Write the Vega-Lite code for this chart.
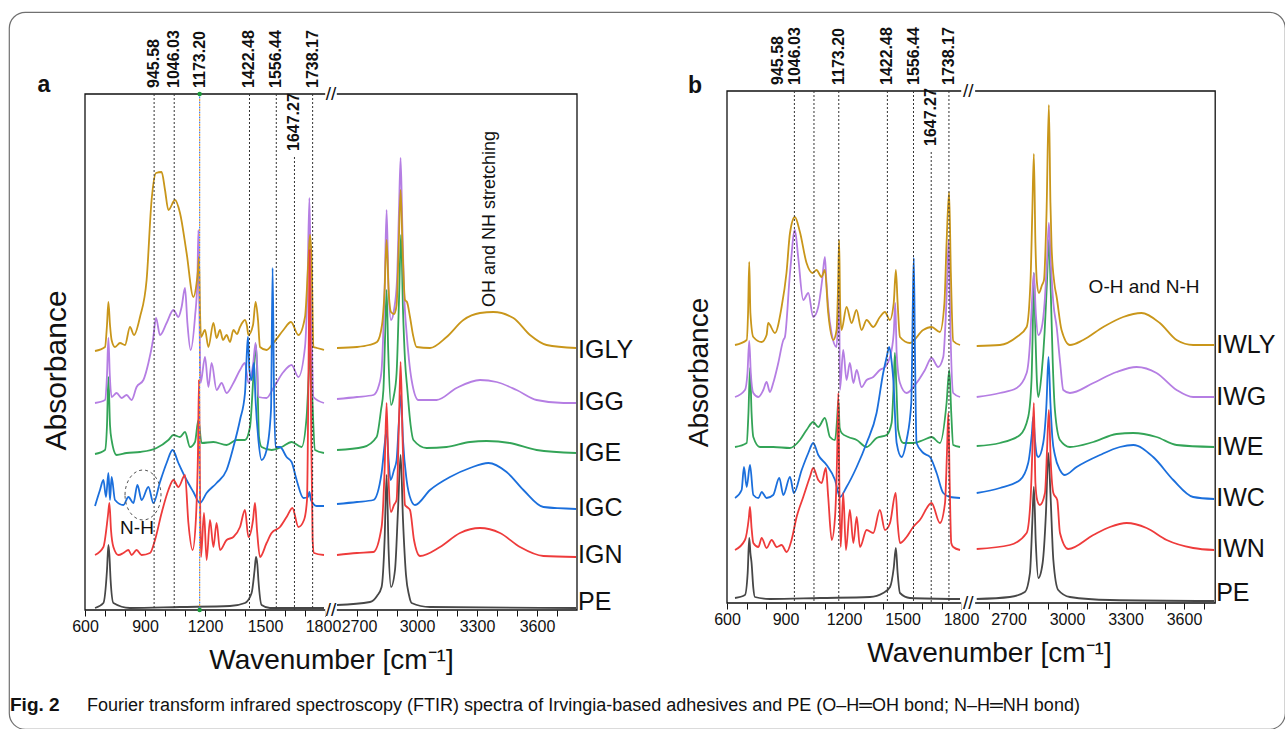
{
"$schema": "https://vega.github.io/schema/vega-lite/v6.json",
"width": 1276,
"height": 717,
"autosize": {"type": "none"},
"padding": {"left": 9, "top": 12, "right": 0, "bottom": 0},
"background": "white",
"config": {
  "font": "Liberation Sans",
  "view": {"stroke": "#707070", "strokeWidth": 1.2, "cornerRadius": 16},
  "axis": {"grid": false, "domain": false, "labelFont": "Liberation Sans", "titleFont": "Liberation Sans", "labelColor": "#111111", "titleColor": "#111111", "titleFontWeight": "normal", "tickColor": "#111111"}
},
"datasets": {
"lines": [
{"p":"a","w":945.58,"t":516},{"p":"a","w":1046.03,"t":516},{"p":"a","w":1173.2,"t":516},{"p":"a","w":1422.48,"t":516},{"p":"a","w":1556.44,"t":516},{"p":"a","w":1647.27,"t":453},{"p":"a","w":1738.17,"t":516},
{"p":"b","w":945.58,"t":512},{"p":"b","w":1046.03,"t":512},{"p":"b","w":1173.2,"t":512},{"p":"b","w":1422.48,"t":512},{"p":"b","w":1556.44,"t":512},{"p":"b","w":1647.27,"t":451},{"p":"b","w":1738.17,"t":512}
],
"names": [
{"p":"a","s":"IGLY","w":3800,"v":260},{"p":"a","s":"IGG","w":3800,"v":208},{"p":"a","s":"IGE","w":3800,"v":157},{"p":"a","s":"IGC","w":3800,"v":102},{"p":"a","s":"IGN","w":3800,"v":55},{"p":"a","s":"PE","w":3800,"v":8},
{"p":"b","s":"IWLY","w":3760,"v":258},{"p":"b","s":"IWG","w":3760,"v":206},{"p":"b","s":"IWE","w":3760,"v":156},{"p":"b","s":"IWC","w":3760,"v":105},{"p":"b","s":"IWN","w":3760,"v":54},{"p":"b","s":"PE","w":3760,"v":10}
],
"spec": [
{"p":"a","s":"PE","g":"L","w":650,"v":2},{"p":"a","s":"PE","g":"L","w":692,"v":7},{"p":"a","s":"PE","g":"L","w":710,"v":40},{"p":"a","s":"PE","g":"L","w":717,"v":65},{"p":"a","s":"PE","g":"L","w":722,"v":55},{"p":"a","s":"PE","g":"L","w":728,"v":30},{"p":"a","s":"PE","g":"L","w":742,"v":7},{"p":"a","s":"PE","g":"L","w":825,"v":2},{"p":"a","s":"PE","g":"L","w":1075,"v":3},{"p":"a","s":"PE","g":"L","w":1325,"v":4},{"p":"a","s":"PE","g":"L","w":1400,"v":7},{"p":"a","s":"PE","g":"L","w":1433,"v":17},{"p":"a","s":"PE","g":"L","w":1448,"v":40},{"p":"a","s":"PE","g":"L","w":1455,"v":53},{"p":"a","s":"PE","g":"L","w":1462,"v":45},{"p":"a","s":"PE","g":"L","w":1467,"v":30},{"p":"a","s":"PE","g":"L","w":1483,"v":5},{"p":"a","s":"PE","g":"L","w":1525,"v":2},{"p":"a","s":"PE","g":"L","w":1795,"v":2},
{"p":"a","s":"PE","g":"R","w":2600,"v":5},{"p":"a","s":"PE","g":"R","w":2765,"v":8},{"p":"a","s":"PE","g":"R","w":2800,"v":14},{"p":"a","s":"PE","g":"R","w":2823,"v":23},{"p":"a","s":"PE","g":"R","w":2838,"v":70},{"p":"a","s":"PE","g":"R","w":2848,"v":135},{"p":"a","s":"PE","g":"R","w":2858,"v":60},{"p":"a","s":"PE","g":"R","w":2870,"v":23},{"p":"a","s":"PE","g":"R","w":2890,"v":40},{"p":"a","s":"PE","g":"R","w":2905,"v":100},{"p":"a","s":"PE","g":"R","w":2918,"v":155},{"p":"a","s":"PE","g":"R","w":2930,"v":90},{"p":"a","s":"PE","g":"R","w":2945,"v":35},{"p":"a","s":"PE","g":"R","w":2960,"v":15},{"p":"a","s":"PE","g":"R","w":2973,"v":7},{"p":"a","s":"PE","g":"R","w":3065,"v":3},{"p":"a","s":"PE","g":"R","w":3795,"v":2},
{"p":"a","s":"IGE","g":"L","w":650,"v":156},{"p":"a","s":"IGE","g":"L","w":700,"v":160},{"p":"a","s":"IGE","g":"L","w":710,"v":185},{"p":"a","s":"IGE","g":"L","w":717,"v":233},{"p":"a","s":"IGE","g":"L","w":725,"v":185},{"p":"a","s":"IGE","g":"L","w":733,"v":170},{"p":"a","s":"IGE","g":"L","w":758,"v":155},{"p":"a","s":"IGE","g":"L","w":808,"v":157},{"p":"a","s":"IGE","g":"L","w":875,"v":158},{"p":"a","s":"IGE","g":"L","w":958,"v":162},{"p":"a","s":"IGE","g":"L","w":1017,"v":170},{"p":"a","s":"IGE","g":"L","w":1042,"v":175},{"p":"a","s":"IGE","g":"L","w":1075,"v":173},{"p":"a","s":"IGE","g":"L","w":1100,"v":178},{"p":"a","s":"IGE","g":"L","w":1125,"v":163},{"p":"a","s":"IGE","g":"L","w":1150,"v":168},{"p":"a","s":"IGE","g":"L","w":1167,"v":190},{"p":"a","s":"IGE","g":"L","w":1183,"v":167},{"p":"a","s":"IGE","g":"L","w":1242,"v":168},{"p":"a","s":"IGE","g":"L","w":1308,"v":165},{"p":"a","s":"IGE","g":"L","w":1358,"v":170},{"p":"a","s":"IGE","g":"L","w":1400,"v":170},{"p":"a","s":"IGE","g":"L","w":1425,"v":183},{"p":"a","s":"IGE","g":"L","w":1445,"v":243},{"p":"a","s":"IGE","g":"L","w":1455,"v":265},{"p":"a","s":"IGE","g":"L","w":1462,"v":230},{"p":"a","s":"IGE","g":"L","w":1470,"v":173},{"p":"a","s":"IGE","g":"L","w":1483,"v":163},{"p":"a","s":"IGE","g":"L","w":1533,"v":160},{"p":"a","s":"IGE","g":"L","w":1583,"v":163},{"p":"a","s":"IGE","g":"L","w":1633,"v":168},{"p":"a","s":"IGE","g":"L","w":1683,"v":163},{"p":"a","s":"IGE","g":"L","w":1708,"v":193},{"p":"a","s":"IGE","g":"L","w":1720,"v":240},{"p":"a","s":"IGE","g":"L","w":1727,"v":262},{"p":"a","s":"IGE","g":"L","w":1735,"v":220},{"p":"a","s":"IGE","g":"L","w":1750,"v":160},{"p":"a","s":"IGE","g":"L","w":1795,"v":157},
{"p":"a","s":"IGE","g":"R","w":2600,"v":160},{"p":"a","s":"IGE","g":"R","w":2732,"v":163},{"p":"a","s":"IGE","g":"R","w":2798,"v":173},{"p":"a","s":"IGE","g":"R","w":2820,"v":200},{"p":"a","s":"IGE","g":"R","w":2832,"v":220},{"p":"a","s":"IGE","g":"R","w":2840,"v":270},{"p":"a","s":"IGE","g":"R","w":2848,"v":320},{"p":"a","s":"IGE","g":"R","w":2856,"v":260},{"p":"a","s":"IGE","g":"R","w":2870,"v":205},{"p":"a","s":"IGE","g":"R","w":2885,"v":215},{"p":"a","s":"IGE","g":"R","w":2898,"v":237},{"p":"a","s":"IGE","g":"R","w":2910,"v":310},{"p":"a","s":"IGE","g":"R","w":2920,"v":375},{"p":"a","s":"IGE","g":"R","w":2930,"v":300},{"p":"a","s":"IGE","g":"R","w":2940,"v":250},{"p":"a","s":"IGE","g":"R","w":2952,"v":220},{"p":"a","s":"IGE","g":"R","w":2968,"v":185},{"p":"a","s":"IGE","g":"R","w":2982,"v":170},{"p":"a","s":"IGE","g":"R","w":3048,"v":162},{"p":"a","s":"IGE","g":"R","w":3148,"v":163},{"p":"a","s":"IGE","g":"R","w":3265,"v":168},{"p":"a","s":"IGE","g":"R","w":3348,"v":169},{"p":"a","s":"IGE","g":"R","w":3465,"v":167},{"p":"a","s":"IGE","g":"R","w":3598,"v":160},{"p":"a","s":"IGE","g":"R","w":3795,"v":157},
{"p":"a","s":"IGG","g":"L","w":650,"v":207},{"p":"a","s":"IGG","g":"L","w":700,"v":210},{"p":"a","s":"IGG","g":"L","w":710,"v":235},{"p":"a","s":"IGG","g":"L","w":717,"v":272},{"p":"a","s":"IGG","g":"L","w":724,"v":235},{"p":"a","s":"IGG","g":"L","w":733,"v":213},{"p":"a","s":"IGG","g":"L","w":758,"v":217},{"p":"a","s":"IGG","g":"L","w":783,"v":212},{"p":"a","s":"IGG","g":"L","w":808,"v":215},{"p":"a","s":"IGG","g":"L","w":833,"v":210},{"p":"a","s":"IGG","g":"L","w":858,"v":223},{"p":"a","s":"IGG","g":"L","w":892,"v":230},{"p":"a","s":"IGG","g":"L","w":917,"v":247},{"p":"a","s":"IGG","g":"L","w":940,"v":270},{"p":"a","s":"IGG","g":"L","w":955,"v":292},{"p":"a","s":"IGG","g":"L","w":975,"v":275},{"p":"a","s":"IGG","g":"L","w":1008,"v":287},{"p":"a","s":"IGG","g":"L","w":1042,"v":300},{"p":"a","s":"IGG","g":"L","w":1067,"v":293},{"p":"a","s":"IGG","g":"L","w":1083,"v":303},{"p":"a","s":"IGG","g":"L","w":1100,"v":322},{"p":"a","s":"IGG","g":"L","w":1112,"v":287},{"p":"a","s":"IGG","g":"L","w":1128,"v":260},{"p":"a","s":"IGG","g":"L","w":1150,"v":293},{"p":"a","s":"IGG","g":"L","w":1162,"v":330},{"p":"a","s":"IGG","g":"L","w":1167,"v":380},{"p":"a","s":"IGG","g":"L","w":1172,"v":300},{"p":"a","s":"IGG","g":"L","w":1178,"v":227},{"p":"a","s":"IGG","g":"L","w":1200,"v":253},{"p":"a","s":"IGG","g":"L","w":1217,"v":223},{"p":"a","s":"IGG","g":"L","w":1233,"v":247},{"p":"a","s":"IGG","g":"L","w":1258,"v":220},{"p":"a","s":"IGG","g":"L","w":1283,"v":227},{"p":"a","s":"IGG","g":"L","w":1308,"v":217},{"p":"a","s":"IGG","g":"L","w":1342,"v":227},{"p":"a","s":"IGG","g":"L","w":1375,"v":240},{"p":"a","s":"IGG","g":"L","w":1400,"v":247},{"p":"a","s":"IGG","g":"L","w":1417,"v":227},{"p":"a","s":"IGG","g":"L","w":1440,"v":245},{"p":"a","s":"IGG","g":"L","w":1453,"v":267},{"p":"a","s":"IGG","g":"L","w":1462,"v":240},{"p":"a","s":"IGG","g":"L","w":1467,"v":213},{"p":"a","s":"IGG","g":"L","w":1508,"v":212},{"p":"a","s":"IGG","g":"L","w":1542,"v":222},{"p":"a","s":"IGG","g":"L","w":1592,"v":238},{"p":"a","s":"IGG","g":"L","w":1633,"v":245},{"p":"a","s":"IGG","g":"L","w":1667,"v":233},{"p":"a","s":"IGG","g":"L","w":1700,"v":263},{"p":"a","s":"IGG","g":"L","w":1712,"v":320},{"p":"a","s":"IGG","g":"L","w":1722,"v":412},{"p":"a","s":"IGG","g":"L","w":1730,"v":320},{"p":"a","s":"IGG","g":"L","w":1742,"v":213},{"p":"a","s":"IGG","g":"L","w":1795,"v":207},
{"p":"a","s":"IGG","g":"R","w":2600,"v":211},{"p":"a","s":"IGG","g":"R","w":2700,"v":213},{"p":"a","s":"IGG","g":"R","w":2782,"v":215},{"p":"a","s":"IGG","g":"R","w":2810,"v":225},{"p":"a","s":"IGG","g":"R","w":2823,"v":240},{"p":"a","s":"IGG","g":"R","w":2838,"v":320},{"p":"a","s":"IGG","g":"R","w":2848,"v":400},{"p":"a","s":"IGG","g":"R","w":2858,"v":320},{"p":"a","s":"IGG","g":"R","w":2870,"v":290},{"p":"a","s":"IGG","g":"R","w":2885,"v":300},{"p":"a","s":"IGG","g":"R","w":2900,"v":330},{"p":"a","s":"IGG","g":"R","w":2910,"v":400},{"p":"a","s":"IGG","g":"R","w":2918,"v":452},{"p":"a","s":"IGG","g":"R","w":2926,"v":390},{"p":"a","s":"IGG","g":"R","w":2935,"v":320},{"p":"a","s":"IGG","g":"R","w":2948,"v":277},{"p":"a","s":"IGG","g":"R","w":2960,"v":250},{"p":"a","s":"IGG","g":"R","w":2973,"v":230},{"p":"a","s":"IGG","g":"R","w":3007,"v":210},{"p":"a","s":"IGG","g":"R","w":3098,"v":210},{"p":"a","s":"IGG","g":"R","w":3198,"v":222},{"p":"a","s":"IGG","g":"R","w":3315,"v":230},{"p":"a","s":"IGG","g":"R","w":3398,"v":228},{"p":"a","s":"IGG","g":"R","w":3498,"v":220},{"p":"a","s":"IGG","g":"R","w":3598,"v":210},{"p":"a","s":"IGG","g":"R","w":3732,"v":207},{"p":"a","s":"IGG","g":"R","w":3795,"v":207},
{"p":"a","s":"IGLY","g":"L","w":650,"v":259},{"p":"a","s":"IGLY","g":"L","w":700,"v":263},{"p":"a","s":"IGLY","g":"L","w":710,"v":285},{"p":"a","s":"IGLY","g":"L","w":717,"v":308},{"p":"a","s":"IGLY","g":"L","w":725,"v":285},{"p":"a","s":"IGLY","g":"L","w":733,"v":270},{"p":"a","s":"IGLY","g":"L","w":750,"v":263},{"p":"a","s":"IGLY","g":"L","w":775,"v":267},{"p":"a","s":"IGLY","g":"L","w":800,"v":265},{"p":"a","s":"IGLY","g":"L","w":825,"v":283},{"p":"a","s":"IGLY","g":"L","w":845,"v":275},{"p":"a","s":"IGLY","g":"L","w":875,"v":293},{"p":"a","s":"IGLY","g":"L","w":908,"v":330},{"p":"a","s":"IGLY","g":"L","w":933,"v":410},{"p":"a","s":"IGLY","g":"L","w":955,"v":437},{"p":"a","s":"IGLY","g":"L","w":983,"v":438},{"p":"a","s":"IGLY","g":"L","w":1000,"v":420},{"p":"a","s":"IGLY","g":"L","w":1017,"v":400},{"p":"a","s":"IGLY","g":"L","w":1050,"v":410},{"p":"a","s":"IGLY","g":"L","w":1075,"v":397},{"p":"a","s":"IGLY","g":"L","w":1108,"v":357},{"p":"a","s":"IGLY","g":"L","w":1142,"v":313},{"p":"a","s":"IGLY","g":"L","w":1158,"v":327},{"p":"a","s":"IGLY","g":"L","w":1165,"v":340},{"p":"a","s":"IGLY","g":"L","w":1170,"v":353},{"p":"a","s":"IGLY","g":"L","w":1175,"v":300},{"p":"a","s":"IGLY","g":"L","w":1180,"v":273},{"p":"a","s":"IGLY","g":"L","w":1200,"v":280},{"p":"a","s":"IGLY","g":"L","w":1217,"v":263},{"p":"a","s":"IGLY","g":"L","w":1242,"v":287},{"p":"a","s":"IGLY","g":"L","w":1258,"v":272},{"p":"a","s":"IGLY","g":"L","w":1275,"v":280},{"p":"a","s":"IGLY","g":"L","w":1290,"v":270},{"p":"a","s":"IGLY","g":"L","w":1308,"v":275},{"p":"a","s":"IGLY","g":"L","w":1325,"v":268},{"p":"a","s":"IGLY","g":"L","w":1342,"v":280},{"p":"a","s":"IGLY","g":"L","w":1360,"v":276},{"p":"a","s":"IGLY","g":"L","w":1375,"v":283},{"p":"a","s":"IGLY","g":"L","w":1400,"v":290},{"p":"a","s":"IGLY","g":"L","w":1410,"v":284},{"p":"a","s":"IGLY","g":"L","w":1417,"v":275},{"p":"a","s":"IGLY","g":"L","w":1440,"v":285},{"p":"a","s":"IGLY","g":"L","w":1453,"v":308},{"p":"a","s":"IGLY","g":"L","w":1465,"v":290},{"p":"a","s":"IGLY","g":"L","w":1475,"v":263},{"p":"a","s":"IGLY","g":"L","w":1508,"v":260},{"p":"a","s":"IGLY","g":"L","w":1542,"v":267},{"p":"a","s":"IGLY","g":"L","w":1592,"v":280},{"p":"a","s":"IGLY","g":"L","w":1630,"v":288},{"p":"a","s":"IGLY","g":"L","w":1667,"v":275},{"p":"a","s":"IGLY","g":"L","w":1700,"v":293},{"p":"a","s":"IGLY","g":"L","w":1717,"v":350},{"p":"a","s":"IGLY","g":"L","w":1725,"v":375},{"p":"a","s":"IGLY","g":"L","w":1733,"v":350},{"p":"a","s":"IGLY","g":"L","w":1742,"v":263},{"p":"a","s":"IGLY","g":"L","w":1760,"v":262},{"p":"a","s":"IGLY","g":"L","w":1795,"v":260},
{"p":"a","s":"IGLY","g":"R","w":2600,"v":262},{"p":"a","s":"IGLY","g":"R","w":2700,"v":263},{"p":"a","s":"IGLY","g":"R","w":2760,"v":265},{"p":"a","s":"IGLY","g":"R","w":2800,"v":268},{"p":"a","s":"IGLY","g":"R","w":2825,"v":285},{"p":"a","s":"IGLY","g":"R","w":2838,"v":320},{"p":"a","s":"IGLY","g":"R","w":2848,"v":370},{"p":"a","s":"IGLY","g":"R","w":2858,"v":320},{"p":"a","s":"IGLY","g":"R","w":2870,"v":298},{"p":"a","s":"IGLY","g":"R","w":2885,"v":296},{"p":"a","s":"IGLY","g":"R","w":2898,"v":305},{"p":"a","s":"IGLY","g":"R","w":2908,"v":360},{"p":"a","s":"IGLY","g":"R","w":2918,"v":420},{"p":"a","s":"IGLY","g":"R","w":2928,"v":360},{"p":"a","s":"IGLY","g":"R","w":2940,"v":310},{"p":"a","s":"IGLY","g":"R","w":2950,"v":308},{"p":"a","s":"IGLY","g":"R","w":2965,"v":293},{"p":"a","s":"IGLY","g":"R","w":2980,"v":275},{"p":"a","s":"IGLY","g":"R","w":2998,"v":263},{"p":"a","s":"IGLY","g":"R","w":3065,"v":262},{"p":"a","s":"IGLY","g":"R","w":3148,"v":273},{"p":"a","s":"IGLY","g":"R","w":3232,"v":290},{"p":"a","s":"IGLY","g":"R","w":3315,"v":297},{"p":"a","s":"IGLY","g":"R","w":3382,"v":298},{"p":"a","s":"IGLY","g":"R","w":3482,"v":292},{"p":"a","s":"IGLY","g":"R","w":3565,"v":275},{"p":"a","s":"IGLY","g":"R","w":3648,"v":265},{"p":"a","s":"IGLY","g":"R","w":3795,"v":262},
{"p":"a","s":"IGC","g":"L","w":650,"v":104},{"p":"a","s":"IGC","g":"L","w":675,"v":120},{"p":"a","s":"IGC","g":"L","w":692,"v":130},{"p":"a","s":"IGC","g":"L","w":705,"v":113},{"p":"a","s":"IGC","g":"L","w":717,"v":137},{"p":"a","s":"IGC","g":"L","w":725,"v":110},{"p":"a","s":"IGC","g":"L","w":733,"v":133},{"p":"a","s":"IGC","g":"L","w":750,"v":110},{"p":"a","s":"IGC","g":"L","w":792,"v":105},{"p":"a","s":"IGC","g":"L","w":817,"v":113},{"p":"a","s":"IGC","g":"L","w":842,"v":107},{"p":"a","s":"IGC","g":"L","w":862,"v":125},{"p":"a","s":"IGC","g":"L","w":883,"v":110},{"p":"a","s":"IGC","g":"L","w":917,"v":123},{"p":"a","s":"IGC","g":"L","w":942,"v":107},{"p":"a","s":"IGC","g":"L","w":975,"v":128},{"p":"a","s":"IGC","g":"L","w":1008,"v":147},{"p":"a","s":"IGC","g":"L","w":1038,"v":160},{"p":"a","s":"IGC","g":"L","w":1067,"v":147},{"p":"a","s":"IGC","g":"L","w":1100,"v":133},{"p":"a","s":"IGC","g":"L","w":1142,"v":118},{"p":"a","s":"IGC","g":"L","w":1175,"v":107},{"p":"a","s":"IGC","g":"L","w":1208,"v":117},{"p":"a","s":"IGC","g":"L","w":1258,"v":127},{"p":"a","s":"IGC","g":"L","w":1308,"v":140},{"p":"a","s":"IGC","g":"L","w":1342,"v":163},{"p":"a","s":"IGC","g":"L","w":1375,"v":190},{"p":"a","s":"IGC","g":"L","w":1400,"v":217},{"p":"a","s":"IGC","g":"L","w":1410,"v":260},{"p":"a","s":"IGC","g":"L","w":1415,"v":273},{"p":"a","s":"IGC","g":"L","w":1422,"v":240},{"p":"a","s":"IGC","g":"L","w":1433,"v":230},{"p":"a","s":"IGC","g":"L","w":1445,"v":247},{"p":"a","s":"IGC","g":"L","w":1452,"v":213},{"p":"a","s":"IGC","g":"L","w":1467,"v":170},{"p":"a","s":"IGC","g":"L","w":1483,"v":150},{"p":"a","s":"IGC","g":"L","w":1508,"v":160},{"p":"a","s":"IGC","g":"L","w":1530,"v":200},{"p":"a","s":"IGC","g":"L","w":1538,"v":342},{"p":"a","s":"IGC","g":"L","w":1545,"v":220},{"p":"a","s":"IGC","g":"L","w":1552,"v":163},{"p":"a","s":"IGC","g":"L","w":1575,"v":163},{"p":"a","s":"IGC","g":"L","w":1608,"v":153},{"p":"a","s":"IGC","g":"L","w":1633,"v":148},{"p":"a","s":"IGC","g":"L","w":1658,"v":130},{"p":"a","s":"IGC","g":"L","w":1692,"v":112},{"p":"a","s":"IGC","g":"L","w":1715,"v":113},{"p":"a","s":"IGC","g":"L","w":1722,"v":118},{"p":"a","s":"IGC","g":"L","w":1730,"v":110},{"p":"a","s":"IGC","g":"L","w":1758,"v":104},{"p":"a","s":"IGC","g":"L","w":1795,"v":104},
{"p":"a","s":"IGC","g":"R","w":2600,"v":106},{"p":"a","s":"IGC","g":"R","w":2700,"v":108},{"p":"a","s":"IGC","g":"R","w":2782,"v":110},{"p":"a","s":"IGC","g":"R","w":2823,"v":137},{"p":"a","s":"IGC","g":"R","w":2838,"v":165},{"p":"a","s":"IGC","g":"R","w":2848,"v":180},{"p":"a","s":"IGC","g":"R","w":2858,"v":150},{"p":"a","s":"IGC","g":"R","w":2868,"v":130},{"p":"a","s":"IGC","g":"R","w":2885,"v":140},{"p":"a","s":"IGC","g":"R","w":2898,"v":150},{"p":"a","s":"IGC","g":"R","w":2910,"v":190},{"p":"a","s":"IGC","g":"R","w":2920,"v":215},{"p":"a","s":"IGC","g":"R","w":2930,"v":170},{"p":"a","s":"IGC","g":"R","w":2948,"v":130},{"p":"a","s":"IGC","g":"R","w":2970,"v":110},{"p":"a","s":"IGC","g":"R","w":2990,"v":105},{"p":"a","s":"IGC","g":"R","w":3065,"v":120},{"p":"a","s":"IGC","g":"R","w":3165,"v":133},{"p":"a","s":"IGC","g":"R","w":3265,"v":142},{"p":"a","s":"IGC","g":"R","w":3357,"v":147},{"p":"a","s":"IGC","g":"R","w":3448,"v":138},{"p":"a","s":"IGC","g":"R","w":3532,"v":120},{"p":"a","s":"IGC","g":"R","w":3632,"v":103},{"p":"a","s":"IGC","g":"R","w":3795,"v":101},
{"p":"a","s":"IGN","g":"L","w":650,"v":55},{"p":"a","s":"IGN","g":"L","w":692,"v":63},{"p":"a","s":"IGN","g":"L","w":715,"v":95},{"p":"a","s":"IGN","g":"L","w":722,"v":107},{"p":"a","s":"IGN","g":"L","w":730,"v":80},{"p":"a","s":"IGN","g":"L","w":742,"v":63},{"p":"a","s":"IGN","g":"L","w":767,"v":55},{"p":"a","s":"IGN","g":"L","w":792,"v":57},{"p":"a","s":"IGN","g":"L","w":817,"v":60},{"p":"a","s":"IGN","g":"L","w":833,"v":55},{"p":"a","s":"IGN","g":"L","w":858,"v":60},{"p":"a","s":"IGN","g":"L","w":883,"v":55},{"p":"a","s":"IGN","g":"L","w":925,"v":57},{"p":"a","s":"IGN","g":"L","w":950,"v":70},{"p":"a","s":"IGN","g":"L","w":983,"v":97},{"p":"a","s":"IGN","g":"L","w":1017,"v":120},{"p":"a","s":"IGN","g":"L","w":1042,"v":130},{"p":"a","s":"IGN","g":"L","w":1067,"v":123},{"p":"a","s":"IGN","g":"L","w":1100,"v":135},{"p":"a","s":"IGN","g":"L","w":1117,"v":87},{"p":"a","s":"IGN","g":"L","w":1138,"v":60},{"p":"a","s":"IGN","g":"L","w":1155,"v":93},{"p":"a","s":"IGN","g":"L","w":1165,"v":160},{"p":"a","s":"IGN","g":"L","w":1170,"v":230},{"p":"a","s":"IGN","g":"L","w":1175,"v":120},{"p":"a","s":"IGN","g":"L","w":1180,"v":53},{"p":"a","s":"IGN","g":"L","w":1195,"v":97},{"p":"a","s":"IGN","g":"L","w":1208,"v":50},{"p":"a","s":"IGN","g":"L","w":1225,"v":90},{"p":"a","s":"IGN","g":"L","w":1242,"v":63},{"p":"a","s":"IGN","g":"L","w":1258,"v":87},{"p":"a","s":"IGN","g":"L","w":1275,"v":60},{"p":"a","s":"IGN","g":"L","w":1308,"v":70},{"p":"a","s":"IGN","g":"L","w":1342,"v":73},{"p":"a","s":"IGN","g":"L","w":1375,"v":83},{"p":"a","s":"IGN","g":"L","w":1400,"v":100},{"p":"a","s":"IGN","g":"L","w":1417,"v":73},{"p":"a","s":"IGN","g":"L","w":1440,"v":90},{"p":"a","s":"IGN","g":"L","w":1450,"v":107},{"p":"a","s":"IGN","g":"L","w":1460,"v":80},{"p":"a","s":"IGN","g":"L","w":1475,"v":53},{"p":"a","s":"IGN","g":"L","w":1508,"v":67},{"p":"a","s":"IGN","g":"L","w":1533,"v":77},{"p":"a","s":"IGN","g":"L","w":1575,"v":83},{"p":"a","s":"IGN","g":"L","w":1608,"v":93},{"p":"a","s":"IGN","g":"L","w":1637,"v":102},{"p":"a","s":"IGN","g":"L","w":1667,"v":83},{"p":"a","s":"IGN","g":"L","w":1695,"v":90},{"p":"a","s":"IGN","g":"L","w":1710,"v":110},{"p":"a","s":"IGN","g":"L","w":1718,"v":250},{"p":"a","s":"IGN","g":"L","w":1723,"v":360},{"p":"a","s":"IGN","g":"L","w":1730,"v":200},{"p":"a","s":"IGN","g":"L","w":1738,"v":70},{"p":"a","s":"IGN","g":"L","w":1745,"v":57},{"p":"a","s":"IGN","g":"L","w":1795,"v":55},
{"p":"a","s":"IGN","g":"R","w":2600,"v":55},{"p":"a","s":"IGN","g":"R","w":2700,"v":57},{"p":"a","s":"IGN","g":"R","w":2782,"v":58},{"p":"a","s":"IGN","g":"R","w":2823,"v":83},{"p":"a","s":"IGN","g":"R","w":2838,"v":140},{"p":"a","s":"IGN","g":"R","w":2848,"v":207},{"p":"a","s":"IGN","g":"R","w":2858,"v":130},{"p":"a","s":"IGN","g":"R","w":2870,"v":98},{"p":"a","s":"IGN","g":"R","w":2885,"v":105},{"p":"a","s":"IGN","g":"R","w":2898,"v":110},{"p":"a","s":"IGN","g":"R","w":2910,"v":190},{"p":"a","s":"IGN","g":"R","w":2918,"v":248},{"p":"a","s":"IGN","g":"R","w":2928,"v":170},{"p":"a","s":"IGN","g":"R","w":2940,"v":105},{"p":"a","s":"IGN","g":"R","w":2950,"v":103},{"p":"a","s":"IGN","g":"R","w":2965,"v":100},{"p":"a","s":"IGN","g":"R","w":2985,"v":70},{"p":"a","s":"IGN","g":"R","w":3015,"v":54},{"p":"a","s":"IGN","g":"R","w":3115,"v":63},{"p":"a","s":"IGN","g":"R","w":3215,"v":77},{"p":"a","s":"IGN","g":"R","w":3315,"v":82},{"p":"a","s":"IGN","g":"R","w":3415,"v":77},{"p":"a","s":"IGN","g":"R","w":3515,"v":63},{"p":"a","s":"IGN","g":"R","w":3632,"v":54},{"p":"a","s":"IGN","g":"R","w":3795,"v":53},
{"p":"b","s":"PE","g":"L","w":641,"v":5},{"p":"b","s":"PE","g":"L","w":692,"v":8},{"p":"b","s":"PE","g":"L","w":706,"v":30},{"p":"b","s":"PE","g":"L","w":714,"v":65},{"p":"b","s":"PE","g":"L","w":720,"v":50},{"p":"b","s":"PE","g":"L","w":726,"v":40},{"p":"b","s":"PE","g":"L","w":735,"v":15},{"p":"b","s":"PE","g":"L","w":743,"v":6},{"p":"b","s":"PE","g":"L","w":820,"v":4},{"p":"b","s":"PE","g":"L","w":1077,"v":5},{"p":"b","s":"PE","g":"L","w":1333,"v":6},{"p":"b","s":"PE","g":"L","w":1401,"v":10},{"p":"b","s":"PE","g":"L","w":1436,"v":16},{"p":"b","s":"PE","g":"L","w":1455,"v":35},{"p":"b","s":"PE","g":"L","w":1466,"v":55},{"p":"b","s":"PE","g":"L","w":1475,"v":30},{"p":"b","s":"PE","g":"L","w":1487,"v":10},{"p":"b","s":"PE","g":"L","w":1538,"v":5},{"p":"b","s":"PE","g":"L","w":1795,"v":4},
{"p":"b","s":"PE","g":"R","w":2537,"v":4},{"p":"b","s":"PE","g":"R","w":2707,"v":6},{"p":"b","s":"PE","g":"R","w":2784,"v":11},{"p":"b","s":"PE","g":"R","w":2810,"v":30},{"p":"b","s":"PE","g":"R","w":2822,"v":80},{"p":"b","s":"PE","g":"R","w":2830,"v":116},{"p":"b","s":"PE","g":"R","w":2840,"v":60},{"p":"b","s":"PE","g":"R","w":2853,"v":25},{"p":"b","s":"PE","g":"R","w":2875,"v":40},{"p":"b","s":"PE","g":"R","w":2892,"v":90},{"p":"b","s":"PE","g":"R","w":2904,"v":150},{"p":"b","s":"PE","g":"R","w":2915,"v":110},{"p":"b","s":"PE","g":"R","w":2930,"v":43},{"p":"b","s":"PE","g":"R","w":2955,"v":13},{"p":"b","s":"PE","g":"R","w":3015,"v":6},{"p":"b","s":"PE","g":"R","w":3220,"v":3},{"p":"b","s":"PE","g":"R","w":3755,"v":2},
{"p":"b","s":"IWE","g":"L","w":641,"v":156},{"p":"b","s":"IWE","g":"L","w":701,"v":160},{"p":"b","s":"IWE","g":"L","w":710,"v":190},{"p":"b","s":"IWE","g":"L","w":718,"v":235},{"p":"b","s":"IWE","g":"L","w":726,"v":190},{"p":"b","s":"IWE","g":"L","w":735,"v":166},{"p":"b","s":"IWE","g":"L","w":769,"v":156},{"p":"b","s":"IWE","g":"L","w":837,"v":156},{"p":"b","s":"IWE","g":"L","w":923,"v":155},{"p":"b","s":"IWE","g":"L","w":974,"v":163},{"p":"b","s":"IWE","g":"L","w":1008,"v":173},{"p":"b","s":"IWE","g":"L","w":1042,"v":181},{"p":"b","s":"IWE","g":"L","w":1068,"v":176},{"p":"b","s":"IWE","g":"L","w":1102,"v":185},{"p":"b","s":"IWE","g":"L","w":1128,"v":166},{"p":"b","s":"IWE","g":"L","w":1154,"v":163},{"p":"b","s":"IWE","g":"L","w":1165,"v":185},{"p":"b","s":"IWE","g":"L","w":1171,"v":203},{"p":"b","s":"IWE","g":"L","w":1178,"v":175},{"p":"b","s":"IWE","g":"L","w":1188,"v":170},{"p":"b","s":"IWE","g":"L","w":1222,"v":166},{"p":"b","s":"IWE","g":"L","w":1265,"v":163},{"p":"b","s":"IWE","g":"L","w":1316,"v":156},{"p":"b","s":"IWE","g":"L","w":1367,"v":165},{"p":"b","s":"IWE","g":"L","w":1419,"v":168},{"p":"b","s":"IWE","g":"L","w":1444,"v":180},{"p":"b","s":"IWE","g":"L","w":1455,"v":220},{"p":"b","s":"IWE","g":"L","w":1461,"v":250},{"p":"b","s":"IWE","g":"L","w":1468,"v":220},{"p":"b","s":"IWE","g":"L","w":1478,"v":173},{"p":"b","s":"IWE","g":"L","w":1504,"v":160},{"p":"b","s":"IWE","g":"L","w":1555,"v":160},{"p":"b","s":"IWE","g":"L","w":1607,"v":163},{"p":"b","s":"IWE","g":"L","w":1649,"v":166},{"p":"b","s":"IWE","g":"L","w":1692,"v":160},{"p":"b","s":"IWE","g":"L","w":1726,"v":200},{"p":"b","s":"IWE","g":"L","w":1740,"v":233},{"p":"b","s":"IWE","g":"L","w":1750,"v":190},{"p":"b","s":"IWE","g":"L","w":1760,"v":158},{"p":"b","s":"IWE","g":"L","w":1795,"v":156},
{"p":"b","s":"IWE","g":"R","w":2537,"v":157},{"p":"b","s":"IWE","g":"R","w":2656,"v":160},{"p":"b","s":"IWE","g":"R","w":2759,"v":168},{"p":"b","s":"IWE","g":"R","w":2801,"v":186},{"p":"b","s":"IWE","g":"R","w":2818,"v":223},{"p":"b","s":"IWE","g":"R","w":2825,"v":280},{"p":"b","s":"IWE","g":"R","w":2830,"v":330},{"p":"b","s":"IWE","g":"R","w":2838,"v":270},{"p":"b","s":"IWE","g":"R","w":2846,"v":220},{"p":"b","s":"IWE","g":"R","w":2853,"v":206},{"p":"b","s":"IWE","g":"R","w":2870,"v":230},{"p":"b","s":"IWE","g":"R","w":2885,"v":270},{"p":"b","s":"IWE","g":"R","w":2897,"v":320},{"p":"b","s":"IWE","g":"R","w":2907,"v":363},{"p":"b","s":"IWE","g":"R","w":2917,"v":310},{"p":"b","s":"IWE","g":"R","w":2927,"v":240},{"p":"b","s":"IWE","g":"R","w":2938,"v":193},{"p":"b","s":"IWE","g":"R","w":2964,"v":163},{"p":"b","s":"IWE","g":"R","w":3015,"v":156},{"p":"b","s":"IWE","g":"R","w":3135,"v":161},{"p":"b","s":"IWE","g":"R","w":3254,"v":169},{"p":"b","s":"IWE","g":"R","w":3340,"v":170},{"p":"b","s":"IWE","g":"R","w":3459,"v":166},{"p":"b","s":"IWE","g":"R","w":3562,"v":158},{"p":"b","s":"IWE","g":"R","w":3755,"v":156},
{"p":"b","s":"IWG","g":"L","w":641,"v":206},{"p":"b","s":"IWG","g":"L","w":692,"v":213},{"p":"b","s":"IWG","g":"L","w":705,"v":230},{"p":"b","s":"IWG","g":"L","w":714,"v":262},{"p":"b","s":"IWG","g":"L","w":722,"v":230},{"p":"b","s":"IWG","g":"L","w":735,"v":210},{"p":"b","s":"IWG","g":"L","w":761,"v":206},{"p":"b","s":"IWG","g":"L","w":786,"v":213},{"p":"b","s":"IWG","g":"L","w":803,"v":221},{"p":"b","s":"IWG","g":"L","w":820,"v":211},{"p":"b","s":"IWG","g":"L","w":837,"v":220},{"p":"b","s":"IWG","g":"L","w":863,"v":240},{"p":"b","s":"IWG","g":"L","w":889,"v":263},{"p":"b","s":"IWG","g":"L","w":897,"v":266},{"p":"b","s":"IWG","g":"L","w":923,"v":330},{"p":"b","s":"IWG","g":"L","w":948,"v":373},{"p":"b","s":"IWG","g":"L","w":965,"v":346},{"p":"b","s":"IWG","g":"L","w":991,"v":303},{"p":"b","s":"IWG","g":"L","w":1017,"v":310},{"p":"b","s":"IWG","g":"L","w":1042,"v":286},{"p":"b","s":"IWG","g":"L","w":1068,"v":296},{"p":"b","s":"IWG","g":"L","w":1088,"v":323},{"p":"b","s":"IWG","g":"L","w":1102,"v":346},{"p":"b","s":"IWG","g":"L","w":1110,"v":320},{"p":"b","s":"IWG","g":"L","w":1119,"v":296},{"p":"b","s":"IWG","g":"L","w":1136,"v":270},{"p":"b","s":"IWG","g":"L","w":1162,"v":256},{"p":"b","s":"IWG","g":"L","w":1170,"v":290},{"p":"b","s":"IWG","g":"L","w":1175,"v":320},{"p":"b","s":"IWG","g":"L","w":1179,"v":213},{"p":"b","s":"IWG","g":"L","w":1196,"v":253},{"p":"b","s":"IWG","g":"L","w":1213,"v":223},{"p":"b","s":"IWG","g":"L","w":1230,"v":240},{"p":"b","s":"IWG","g":"L","w":1248,"v":220},{"p":"b","s":"IWG","g":"L","w":1265,"v":233},{"p":"b","s":"IWG","g":"L","w":1290,"v":216},{"p":"b","s":"IWG","g":"L","w":1316,"v":223},{"p":"b","s":"IWG","g":"L","w":1350,"v":226},{"p":"b","s":"IWG","g":"L","w":1384,"v":233},{"p":"b","s":"IWG","g":"L","w":1410,"v":236},{"p":"b","s":"IWG","g":"L","w":1436,"v":246},{"p":"b","s":"IWG","g":"L","w":1455,"v":270},{"p":"b","s":"IWG","g":"L","w":1463,"v":300},{"p":"b","s":"IWG","g":"L","w":1470,"v":250},{"p":"b","s":"IWG","g":"L","w":1487,"v":220},{"p":"b","s":"IWG","g":"L","w":1521,"v":210},{"p":"b","s":"IWG","g":"L","w":1572,"v":220},{"p":"b","s":"IWG","g":"L","w":1615,"v":233},{"p":"b","s":"IWG","g":"L","w":1649,"v":245},{"p":"b","s":"IWG","g":"L","w":1683,"v":236},{"p":"b","s":"IWG","g":"L","w":1709,"v":246},{"p":"b","s":"IWG","g":"L","w":1725,"v":300},{"p":"b","s":"IWG","g":"L","w":1737,"v":363},{"p":"b","s":"IWG","g":"L","w":1745,"v":280},{"p":"b","s":"IWG","g":"L","w":1760,"v":210},{"p":"b","s":"IWG","g":"L","w":1795,"v":206},
{"p":"b","s":"IWG","g":"R","w":2537,"v":206},{"p":"b","s":"IWG","g":"R","w":2656,"v":210},{"p":"b","s":"IWG","g":"R","w":2742,"v":215},{"p":"b","s":"IWG","g":"R","w":2793,"v":230},{"p":"b","s":"IWG","g":"R","w":2810,"v":260},{"p":"b","s":"IWG","g":"R","w":2820,"v":300},{"p":"b","s":"IWG","g":"R","w":2830,"v":330},{"p":"b","s":"IWG","g":"R","w":2840,"v":290},{"p":"b","s":"IWG","g":"R","w":2853,"v":268},{"p":"b","s":"IWG","g":"R","w":2870,"v":275},{"p":"b","s":"IWG","g":"R","w":2885,"v":300},{"p":"b","s":"IWG","g":"R","w":2897,"v":340},{"p":"b","s":"IWG","g":"R","w":2907,"v":380},{"p":"b","s":"IWG","g":"R","w":2917,"v":340},{"p":"b","s":"IWG","g":"R","w":2930,"v":300},{"p":"b","s":"IWG","g":"R","w":2947,"v":276},{"p":"b","s":"IWG","g":"R","w":2965,"v":240},{"p":"b","s":"IWG","g":"R","w":2981,"v":213},{"p":"b","s":"IWG","g":"R","w":3015,"v":210},{"p":"b","s":"IWG","g":"R","w":3135,"v":220},{"p":"b","s":"IWG","g":"R","w":3254,"v":231},{"p":"b","s":"IWG","g":"R","w":3357,"v":236},{"p":"b","s":"IWG","g":"R","w":3459,"v":230},{"p":"b","s":"IWG","g":"R","w":3562,"v":213},{"p":"b","s":"IWG","g":"R","w":3647,"v":206},{"p":"b","s":"IWG","g":"R","w":3755,"v":206},
{"p":"b","s":"IWLY","g":"L","w":641,"v":258},{"p":"b","s":"IWLY","g":"L","w":701,"v":263},{"p":"b","s":"IWLY","g":"L","w":708,"v":290},{"p":"b","s":"IWLY","g":"L","w":714,"v":341},{"p":"b","s":"IWLY","g":"L","w":720,"v":290},{"p":"b","s":"IWLY","g":"L","w":735,"v":266},{"p":"b","s":"IWLY","g":"L","w":778,"v":261},{"p":"b","s":"IWLY","g":"L","w":803,"v":268},{"p":"b","s":"IWLY","g":"L","w":811,"v":280},{"p":"b","s":"IWLY","g":"L","w":846,"v":270},{"p":"b","s":"IWLY","g":"L","w":880,"v":296},{"p":"b","s":"IWLY","g":"L","w":905,"v":330},{"p":"b","s":"IWLY","g":"L","w":923,"v":370},{"p":"b","s":"IWLY","g":"L","w":948,"v":386},{"p":"b","s":"IWLY","g":"L","w":974,"v":371},{"p":"b","s":"IWLY","g":"L","w":1008,"v":340},{"p":"b","s":"IWLY","g":"L","w":1039,"v":330},{"p":"b","s":"IWLY","g":"L","w":1059,"v":333},{"p":"b","s":"IWLY","g":"L","w":1085,"v":326},{"p":"b","s":"IWLY","g":"L","w":1102,"v":333},{"p":"b","s":"IWLY","g":"L","w":1119,"v":290},{"p":"b","s":"IWLY","g":"L","w":1145,"v":263},{"p":"b","s":"IWLY","g":"L","w":1162,"v":273},{"p":"b","s":"IWLY","g":"L","w":1170,"v":320},{"p":"b","s":"IWLY","g":"L","w":1175,"v":363},{"p":"b","s":"IWLY","g":"L","w":1180,"v":300},{"p":"b","s":"IWLY","g":"L","w":1187,"v":273},{"p":"b","s":"IWLY","g":"L","w":1213,"v":296},{"p":"b","s":"IWLY","g":"L","w":1239,"v":280},{"p":"b","s":"IWLY","g":"L","w":1264,"v":293},{"p":"b","s":"IWLY","g":"L","w":1290,"v":273},{"p":"b","s":"IWLY","g":"L","w":1316,"v":283},{"p":"b","s":"IWLY","g":"L","w":1350,"v":276},{"p":"b","s":"IWLY","g":"L","w":1384,"v":286},{"p":"b","s":"IWLY","g":"L","w":1410,"v":291},{"p":"b","s":"IWLY","g":"L","w":1435,"v":283},{"p":"b","s":"IWLY","g":"L","w":1455,"v":300},{"p":"b","s":"IWLY","g":"L","w":1466,"v":333},{"p":"b","s":"IWLY","g":"L","w":1475,"v":300},{"p":"b","s":"IWLY","g":"L","w":1487,"v":266},{"p":"b","s":"IWLY","g":"L","w":1538,"v":260},{"p":"b","s":"IWLY","g":"L","w":1606,"v":273},{"p":"b","s":"IWLY","g":"L","w":1649,"v":276},{"p":"b","s":"IWLY","g":"L","w":1692,"v":271},{"p":"b","s":"IWLY","g":"L","w":1715,"v":300},{"p":"b","s":"IWLY","g":"L","w":1726,"v":360},{"p":"b","s":"IWLY","g":"L","w":1739,"v":411},{"p":"b","s":"IWLY","g":"L","w":1748,"v":330},{"p":"b","s":"IWLY","g":"L","w":1760,"v":262},{"p":"b","s":"IWLY","g":"L","w":1795,"v":258},
{"p":"b","s":"IWLY","g":"R","w":2537,"v":257},{"p":"b","s":"IWLY","g":"R","w":2656,"v":258},{"p":"b","s":"IWLY","g":"R","w":2742,"v":266},{"p":"b","s":"IWLY","g":"R","w":2793,"v":276},{"p":"b","s":"IWLY","g":"R","w":2813,"v":323},{"p":"b","s":"IWLY","g":"R","w":2822,"v":390},{"p":"b","s":"IWLY","g":"R","w":2830,"v":449},{"p":"b","s":"IWLY","g":"R","w":2838,"v":360},{"p":"b","s":"IWLY","g":"R","w":2846,"v":320},{"p":"b","s":"IWLY","g":"R","w":2856,"v":310},{"p":"b","s":"IWLY","g":"R","w":2872,"v":318},{"p":"b","s":"IWLY","g":"R","w":2882,"v":323},{"p":"b","s":"IWLY","g":"R","w":2895,"v":390},{"p":"b","s":"IWLY","g":"R","w":2907,"v":498},{"p":"b","s":"IWLY","g":"R","w":2915,"v":400},{"p":"b","s":"IWLY","g":"R","w":2921,"v":356},{"p":"b","s":"IWLY","g":"R","w":2935,"v":320},{"p":"b","s":"IWLY","g":"R","w":2947,"v":306},{"p":"b","s":"IWLY","g":"R","w":2972,"v":273},{"p":"b","s":"IWLY","g":"R","w":3015,"v":258},{"p":"b","s":"IWLY","g":"R","w":3083,"v":263},{"p":"b","s":"IWLY","g":"R","w":3186,"v":276},{"p":"b","s":"IWLY","g":"R","w":3288,"v":286},{"p":"b","s":"IWLY","g":"R","w":3382,"v":290},{"p":"b","s":"IWLY","g":"R","w":3476,"v":280},{"p":"b","s":"IWLY","g":"R","w":3562,"v":263},{"p":"b","s":"IWLY","g":"R","w":3647,"v":258},{"p":"b","s":"IWLY","g":"R","w":3755,"v":258},
{"p":"b","s":"IWC","g":"L","w":641,"v":105},{"p":"b","s":"IWC","g":"L","w":675,"v":113},{"p":"b","s":"IWC","g":"L","w":687,"v":136},{"p":"b","s":"IWC","g":"L","w":701,"v":116},{"p":"b","s":"IWC","g":"L","w":718,"v":138},{"p":"b","s":"IWC","g":"L","w":735,"v":108},{"p":"b","s":"IWC","g":"L","w":761,"v":105},{"p":"b","s":"IWC","g":"L","w":778,"v":111},{"p":"b","s":"IWC","g":"L","w":803,"v":105},{"p":"b","s":"IWC","g":"L","w":837,"v":108},{"p":"b","s":"IWC","g":"L","w":868,"v":125},{"p":"b","s":"IWC","g":"L","w":889,"v":108},{"p":"b","s":"IWC","g":"L","w":923,"v":126},{"p":"b","s":"IWC","g":"L","w":943,"v":110},{"p":"b","s":"IWC","g":"L","w":983,"v":133},{"p":"b","s":"IWC","g":"L","w":1017,"v":150},{"p":"b","s":"IWC","g":"L","w":1042,"v":160},{"p":"b","s":"IWC","g":"L","w":1068,"v":148},{"p":"b","s":"IWC","g":"L","w":1111,"v":138},{"p":"b","s":"IWC","g":"L","w":1154,"v":123},{"p":"b","s":"IWC","g":"L","w":1179,"v":106},{"p":"b","s":"IWC","g":"L","w":1213,"v":116},{"p":"b","s":"IWC","g":"L","w":1265,"v":136},{"p":"b","s":"IWC","g":"L","w":1316,"v":160},{"p":"b","s":"IWC","g":"L","w":1367,"v":190},{"p":"b","s":"IWC","g":"L","w":1401,"v":230},{"p":"b","s":"IWC","g":"L","w":1419,"v":246},{"p":"b","s":"IWC","g":"L","w":1432,"v":256},{"p":"b","s":"IWC","g":"L","w":1445,"v":240},{"p":"b","s":"IWC","g":"L","w":1453,"v":223},{"p":"b","s":"IWC","g":"L","w":1470,"v":160},{"p":"b","s":"IWC","g":"L","w":1495,"v":146},{"p":"b","s":"IWC","g":"L","w":1521,"v":163},{"p":"b","s":"IWC","g":"L","w":1545,"v":200},{"p":"b","s":"IWC","g":"L","w":1553,"v":300},{"p":"b","s":"IWC","g":"L","w":1558,"v":345},{"p":"b","s":"IWC","g":"L","w":1564,"v":250},{"p":"b","s":"IWC","g":"L","w":1572,"v":160},{"p":"b","s":"IWC","g":"L","w":1607,"v":150},{"p":"b","s":"IWC","g":"L","w":1641,"v":146},{"p":"b","s":"IWC","g":"L","w":1675,"v":130},{"p":"b","s":"IWC","g":"L","w":1709,"v":110},{"p":"b","s":"IWC","g":"L","w":1743,"v":106},{"p":"b","s":"IWC","g":"L","w":1795,"v":105},
{"p":"b","s":"IWC","g":"R","w":2537,"v":110},{"p":"b","s":"IWC","g":"R","w":2656,"v":115},{"p":"b","s":"IWC","g":"R","w":2759,"v":123},{"p":"b","s":"IWC","g":"R","w":2801,"v":140},{"p":"b","s":"IWC","g":"R","w":2820,"v":170},{"p":"b","s":"IWC","g":"R","w":2827,"v":186},{"p":"b","s":"IWC","g":"R","w":2835,"v":165},{"p":"b","s":"IWC","g":"R","w":2845,"v":148},{"p":"b","s":"IWC","g":"R","w":2853,"v":146},{"p":"b","s":"IWC","g":"R","w":2878,"v":160},{"p":"b","s":"IWC","g":"R","w":2895,"v":200},{"p":"b","s":"IWC","g":"R","w":2905,"v":246},{"p":"b","s":"IWC","g":"R","w":2915,"v":200},{"p":"b","s":"IWC","g":"R","w":2925,"v":165},{"p":"b","s":"IWC","g":"R","w":2938,"v":148},{"p":"b","s":"IWC","g":"R","w":2964,"v":133},{"p":"b","s":"IWC","g":"R","w":2989,"v":128},{"p":"b","s":"IWC","g":"R","w":3049,"v":136},{"p":"b","s":"IWC","g":"R","w":3169,"v":148},{"p":"b","s":"IWC","g":"R","w":3271,"v":156},{"p":"b","s":"IWC","g":"R","w":3340,"v":158},{"p":"b","s":"IWC","g":"R","w":3442,"v":146},{"p":"b","s":"IWC","g":"R","w":3545,"v":123},{"p":"b","s":"IWC","g":"R","w":3647,"v":106},{"p":"b","s":"IWC","g":"R","w":3755,"v":104},
{"p":"b","s":"IWN","g":"L","w":641,"v":53},{"p":"b","s":"IWN","g":"L","w":692,"v":63},{"p":"b","s":"IWN","g":"L","w":712,"v":85},{"p":"b","s":"IWN","g":"L","w":718,"v":96},{"p":"b","s":"IWN","g":"L","w":726,"v":75},{"p":"b","s":"IWN","g":"L","w":735,"v":60},{"p":"b","s":"IWN","g":"L","w":761,"v":56},{"p":"b","s":"IWN","g":"L","w":778,"v":65},{"p":"b","s":"IWN","g":"L","w":803,"v":55},{"p":"b","s":"IWN","g":"L","w":829,"v":63},{"p":"b","s":"IWN","g":"L","w":855,"v":56},{"p":"b","s":"IWN","g":"L","w":880,"v":58},{"p":"b","s":"IWN","g":"L","w":906,"v":51},{"p":"b","s":"IWN","g":"L","w":931,"v":63},{"p":"b","s":"IWN","g":"L","w":957,"v":86},{"p":"b","s":"IWN","g":"L","w":991,"v":106},{"p":"b","s":"IWN","g":"L","w":1025,"v":126},{"p":"b","s":"IWN","g":"L","w":1042,"v":135},{"p":"b","s":"IWN","g":"L","w":1068,"v":123},{"p":"b","s":"IWN","g":"L","w":1085,"v":120},{"p":"b","s":"IWN","g":"L","w":1107,"v":135},{"p":"b","s":"IWN","g":"L","w":1119,"v":106},{"p":"b","s":"IWN","g":"L","w":1137,"v":63},{"p":"b","s":"IWN","g":"L","w":1154,"v":86},{"p":"b","s":"IWN","g":"L","w":1165,"v":150},{"p":"b","s":"IWN","g":"L","w":1171,"v":210},{"p":"b","s":"IWN","g":"L","w":1176,"v":120},{"p":"b","s":"IWN","g":"L","w":1183,"v":56},{"p":"b","s":"IWN","g":"L","w":1196,"v":110},{"p":"b","s":"IWN","g":"L","w":1210,"v":53},{"p":"b","s":"IWN","g":"L","w":1230,"v":93},{"p":"b","s":"IWN","g":"L","w":1248,"v":60},{"p":"b","s":"IWN","g":"L","w":1265,"v":86},{"p":"b","s":"IWN","g":"L","w":1282,"v":56},{"p":"b","s":"IWN","g":"L","w":1316,"v":73},{"p":"b","s":"IWN","g":"L","w":1350,"v":70},{"p":"b","s":"IWN","g":"L","w":1384,"v":93},{"p":"b","s":"IWN","g":"L","w":1410,"v":73},{"p":"b","s":"IWN","g":"L","w":1436,"v":80},{"p":"b","s":"IWN","g":"L","w":1465,"v":110},{"p":"b","s":"IWN","g":"L","w":1475,"v":80},{"p":"b","s":"IWN","g":"L","w":1487,"v":60},{"p":"b","s":"IWN","g":"L","w":1521,"v":66},{"p":"b","s":"IWN","g":"L","w":1555,"v":76},{"p":"b","s":"IWN","g":"L","w":1589,"v":83},{"p":"b","s":"IWN","g":"L","w":1649,"v":100},{"p":"b","s":"IWN","g":"L","w":1692,"v":80},{"p":"b","s":"IWN","g":"L","w":1718,"v":100},{"p":"b","s":"IWN","g":"L","w":1728,"v":150},{"p":"b","s":"IWN","g":"L","w":1735,"v":190},{"p":"b","s":"IWN","g":"L","w":1742,"v":120},{"p":"b","s":"IWN","g":"L","w":1750,"v":60},{"p":"b","s":"IWN","g":"L","w":1760,"v":56},{"p":"b","s":"IWN","g":"L","w":1795,"v":53},
{"p":"b","s":"IWN","g":"R","w":2537,"v":54},{"p":"b","s":"IWN","g":"R","w":2707,"v":58},{"p":"b","s":"IWN","g":"R","w":2793,"v":70},{"p":"b","s":"IWN","g":"R","w":2813,"v":103},{"p":"b","s":"IWN","g":"R","w":2822,"v":150},{"p":"b","s":"IWN","g":"R","w":2830,"v":200},{"p":"b","s":"IWN","g":"R","w":2838,"v":120},{"p":"b","s":"IWN","g":"R","w":2847,"v":103},{"p":"b","s":"IWN","g":"R","w":2861,"v":98},{"p":"b","s":"IWN","g":"R","w":2887,"v":110},{"p":"b","s":"IWN","g":"R","w":2897,"v":150},{"p":"b","s":"IWN","g":"R","w":2907,"v":193},{"p":"b","s":"IWN","g":"R","w":2917,"v":140},{"p":"b","s":"IWN","g":"R","w":2930,"v":110},{"p":"b","s":"IWN","g":"R","w":2950,"v":103},{"p":"b","s":"IWN","g":"R","w":2964,"v":70},{"p":"b","s":"IWN","g":"R","w":3006,"v":54},{"p":"b","s":"IWN","g":"R","w":3135,"v":68},{"p":"b","s":"IWN","g":"R","w":3220,"v":76},{"p":"b","s":"IWN","g":"R","w":3306,"v":80},{"p":"b","s":"IWN","g":"R","w":3408,"v":75},{"p":"b","s":"IWN","g":"R","w":3511,"v":63},{"p":"b","s":"IWN","g":"R","w":3647,"v":55},{"p":"b","s":"IWN","g":"R","w":3755,"v":53}
]
},
"layer": [
{
"layer": [
  {"data": {"values": [{}]}, "mark": {"type": "rect", "fillOpacity": 0, "stroke": "#111111", "strokeWidth": 1.3},
   "encoding": {"x": {"datum": 600, "type": "quantitative"}, "x2": {"datum": 3800}, "y": {"datum": 0, "type": "quantitative"}, "y2": {"datum": 516}}},
  {"data": {"values": [{}]}, "mark": {"type": "rect", "color": "white"},
   "encoding": {"x": {"datum": 1812, "type": "quantitative"}, "x2": {"datum": 2588}, "y": {"datum": 510, "type": "quantitative"}, "y2": {"datum": 522}}},
  {"data": {"values": [{}]}, "mark": {"type": "rect", "color": "white"},
   "encoding": {"x": {"datum": 1812, "type": "quantitative"}, "x2": {"datum": 2588}, "y": {"datum": -6, "type": "quantitative"}, "y2": {"datum": 6}}},
  {"data": {"name": "spec"}, "transform": [{"filter": "datum.p == 'a'"}],
   "mark": {"type": "line", "strokeWidth": 1.8, "interpolate": "monotone"},
   "encoding": {
     "x": {"field": "w", "type": "quantitative",
       "scale": {"domain": [600, 1800, 2600, 3800], "range": [76, 316, 328, 568], "nice": false, "zero": false},
       "axis": {"orient": "bottom", "offset": -119,
         "values": [600,650,700,750,800,850,900,950,1000,1050,1100,1150,1200,1250,1300,1350,1400,1450,1500,1550,1600,1650,1700,1750,1800,2650,2700,2750,2800,2850,2900,2950,3000,3050,3100,3150,3200,3250,3300,3350,3400,3450,3500,3550,3600,3650,3700,3750],
         "labelExpr": "datum.value % 300 == 0 ? '' + datum.value : ''",
         "labelOverlap": false, "labelFlush": false, "labelBound": false,
         "labelOffset": {"condition": [{"test": "datum.value == 1800", "value": -2}, {"test": "datum.value == 2700", "value": 2}], "value": 0},
         "tickSize": 6, "tickWidth": 1, "labelFontSize": 16, "labelPadding": 2,
         "title": "Wavenumber [cm⁻¹]", "titleFontSize": 28, "titlePadding": 12}},
     "y": {"field": "v", "type": "quantitative",
       "scale": {"domain": [0, 516], "range": [598, 82], "nice": false, "zero": false},
       "axis": {"orient": "left", "offset": -76, "ticks": false, "labels": false, "title": "Absorbance", "titleFontSize": 30, "titlePadding": 14, "titleY": 358}},
     "color": {"field": "s", "type": "nominal", "legend": null,
       "scale": {"domain": ["IGLY","IGG","IGE","IGC","IGN","PE","IWLY","IWG","IWE","IWC","IWN"],
                 "range": ["#c9961a","#b57ee3","#33a457","#1b6fdc","#ee3b3b","#474747","#c9961a","#b57ee3","#33a457","#1b6fdc","#ee3b3b"]}},
     "detail": {"field": "g", "type": "nominal"}
   }},
  {"data": {"name": "lines"}, "transform": [{"filter": "datum.p == 'a' && datum.w != 1173.2"}],
   "mark": {"type": "rule", "strokeDash": [2, 2], "strokeWidth": 1, "color": "#333333"},
   "encoding": {"x": {"field": "w", "type": "quantitative"}, "y": {"field": "t", "type": "quantitative"}, "y2": {"datum": 0}}},
  {"data": {"name": "lines"}, "transform": [{"filter": "datum.p == 'a' && datum.w == 1173.2"}],
   "mark": {"type": "rule", "strokeDash": [2, 3], "strokeWidth": 1.2, "color": "#f0a030"},
   "encoding": {"x": {"field": "w", "type": "quantitative"}, "y": {"field": "t", "type": "quantitative"}, "y2": {"datum": 0}}},
  {"data": {"name": "lines"}, "transform": [{"filter": "datum.p == 'a' && datum.w == 1173.2"}],
   "mark": {"type": "rule", "strokeDash": [2, 3], "strokeDashOffset": 2.5, "strokeWidth": 1.2, "color": "#4a7fe0"},
   "encoding": {"x": {"field": "w", "type": "quantitative"}, "y": {"field": "t", "type": "quantitative"}, "y2": {"datum": 0}}},
  {"data": {"values": [{}]}, "mark": {"type": "point", "filled": true, "color": "#1a9a3a", "size": 20, "opacity": 1},
   "encoding": {"x": {"datum": 1173.2, "type": "quantitative"}, "y": {"datum": 516, "type": "quantitative"}}},
  {"data": {"values": [{}]}, "mark": {"type": "point", "filled": true, "color": "#1a9a3a", "size": 20, "opacity": 1},
   "encoding": {"x": {"datum": 1173.2, "type": "quantitative"}, "y": {"datum": 0, "type": "quantitative"}}},
  {"data": {"name": "lines"}, "transform": [{"filter": "datum.p == 'a'"}],
   "mark": {"type": "text", "angle": 270, "align": "left", "baseline": "middle", "dx": 6, "fontSize": 16, "fontWeight": "bold", "color": "#111111"},
   "encoding": {"x": {"field": "w", "type": "quantitative"}, "y": {"field": "t", "type": "quantitative"}, "text": {"field": "w", "type": "quantitative", "format": ".2f"}}},
  {"data": {"name": "names"}, "transform": [{"filter": "datum.p == 'a'"}],
   "mark": {"type": "text", "align": "left", "baseline": "middle", "dx": 1, "fontSize": 25, "color": "#111111"},
   "encoding": {"x": {"field": "w", "type": "quantitative"}, "y": {"field": "v", "type": "quantitative"}, "text": {"field": "s", "type": "nominal"}}},
  {"data": {"values": [{}]}, "mark": {"type": "text", "text": "a", "fontSize": 23, "fontWeight": "bold", "align": "center", "baseline": "middle", "color": "#111111"},
   "encoding": {"x": {"datum": 395, "type": "quantitative"}, "y": {"datum": 525, "type": "quantitative"}}},
  {"data": {"values": [{}]}, "mark": {"type": "text", "text": "OH and NH stretching", "fontSize": 18, "angle": 270, "align": "left", "baseline": "middle", "color": "#111111"},
   "encoding": {"x": {"datum": 3365, "type": "quantitative"}, "y": {"datum": 303, "type": "quantitative"}}},
  {"data": {"values": [{}]}, "mark": {"type": "point", "shape": "M -0.72 0 A 0.72 1 0 1 1 0.72 0 A 0.72 1 0 1 1 -0.72 0 Z", "size": 2500, "filled": false, "color": "#555555", "strokeWidth": 1, "strokeDash": [3, 3], "opacity": 1},
   "encoding": {"x": {"datum": 890, "type": "quantitative"}, "y": {"datum": 115, "type": "quantitative"}}},
  {"data": {"values": [{}]}, "mark": {"type": "text", "text": "N-H", "fontSize": 19, "align": "center", "baseline": "middle", "color": "#111111"},
   "encoding": {"x": {"datum": 860, "type": "quantitative"}, "y": {"datum": 82, "type": "quantitative"}}},
  {"data": {"values": [{}]}, "mark": {"type": "text", "text": "//", "fontSize": 19, "align": "center", "baseline": "middle", "color": "#111111"},
   "encoding": {"x": {"datum": 2200, "type": "quantitative"}, "y": {"datum": 516, "type": "quantitative"}}},
  {"data": {"values": [{}]}, "mark": {"type": "text", "text": "//", "fontSize": 19, "align": "center", "baseline": "middle", "color": "#111111"},
   "encoding": {"x": {"datum": 2200, "type": "quantitative"}, "y": {"datum": 0, "type": "quantitative"}}},
  {"data": {"values": [{}]}, "mark": {"type": "text", "text": "Fig. 2", "fontSize": 19, "fontWeight": "bold", "align": "left", "baseline": "alphabetic", "color": "#111111"},
   "encoding": {"x": {"datum": 225, "type": "quantitative"}, "y": {"datum": -101, "type": "quantitative"}}},
  {"data": {"values": [{}]}, "mark": {"type": "text", "text": "Fourier transform infrared spectroscopy (FTIR) spectra of Irvingia-based adhesives and PE (O–H═OH bond; N–H═NH bond)", "fontSize": 18, "align": "left", "baseline": "alphabetic", "color": "#111111"},
   "encoding": {"x": {"datum": 610, "type": "quantitative"}, "y": {"datum": -101, "type": "quantitative"}}}
]
},
{
"layer": [
  {"data": {"values": [{}]}, "mark": {"type": "rect", "fillOpacity": 0, "stroke": "#111111", "strokeWidth": 1.3},
   "encoding": {"x": {"datum": 600, "type": "quantitative"}, "x2": {"datum": 3760}, "y": {"datum": 0, "type": "quantitative"}, "y2": {"datum": 512}}},
  {"data": {"values": [{}]}, "mark": {"type": "rect", "color": "white"},
   "encoding": {"x": {"datum": 1812, "type": "quantitative"}, "x2": {"datum": 2518}, "y": {"datum": 506, "type": "quantitative"}, "y2": {"datum": 518}}},
  {"data": {"values": [{}]}, "mark": {"type": "rect", "color": "white"},
   "encoding": {"x": {"datum": 1812, "type": "quantitative"}, "x2": {"datum": 2518}, "y": {"datum": -6, "type": "quantitative"}, "y2": {"datum": 6}}},
  {"data": {"name": "spec"}, "transform": [{"filter": "datum.p == 'b'"}],
   "mark": {"type": "line", "strokeWidth": 1.8, "interpolate": "monotone"},
   "encoding": {
     "x": {"field": "w", "type": "quantitative",
       "scale": {"domain": [600, 1800, 2530, 3760], "range": [718, 952, 966.35, 1206.2], "nice": false, "zero": false},
       "axis": {"orient": "bottom", "offset": -126,
         "values": [600,650,700,750,800,850,900,950,1000,1050,1100,1150,1200,1250,1300,1350,1400,1450,1500,1550,1600,1650,1700,1750,1800,2550,2600,2650,2700,2750,2800,2850,2900,2950,3000,3050,3100,3150,3200,3250,3300,3350,3400,3450,3500,3550,3600,3650,3700,3750],
         "labelExpr": "datum.value % 300 == 0 ? '' + datum.value : ''",
         "labelOverlap": false, "labelFlush": false, "labelBound": false,
         "tickSize": 6, "tickWidth": 1, "labelFontSize": 16, "labelPadding": 2,
         "title": "Wavenumber [cm⁻¹]", "titleFontSize": 28, "titlePadding": 12, "titleX": 980}},
     "y": {"field": "v", "type": "quantitative",
       "scale": {"domain": [0, 512], "range": [591, 79], "nice": false, "zero": false},
       "axis": {"orient": "left", "offset": -718, "ticks": false, "labels": false, "title": "Absorbance", "titleFontSize": 28, "titlePadding": 14, "titleY": 360}},
     "color": {"field": "s", "type": "nominal", "legend": null},
     "detail": {"field": "g", "type": "nominal"}
   }},
  {"data": {"name": "lines"}, "transform": [{"filter": "datum.p == 'b'"}],
   "mark": {"type": "rule", "strokeDash": [2, 2], "strokeWidth": 1, "color": "#333333"},
   "encoding": {"x": {"field": "w", "type": "quantitative"}, "y": {"field": "t", "type": "quantitative"}, "y2": {"datum": 0}}},
  {"data": {"name": "lines"}, "transform": [{"filter": "datum.p == 'b' && datum.w != 945.58 && datum.w != 1046.03"}],
   "mark": {"type": "text", "angle": 270, "align": "left", "baseline": "middle", "dx": 6, "fontSize": 16, "fontWeight": "bold", "color": "#111111"},
   "encoding": {"x": {"field": "w", "type": "quantitative"}, "y": {"field": "t", "type": "quantitative"}, "text": {"field": "w", "type": "quantitative", "format": ".2f"}}},
  {"data": {"name": "lines"}, "transform": [{"filter": "datum.p == 'b' && datum.w == 945.58"}],
   "mark": {"type": "text", "angle": 270, "align": "left", "baseline": "middle", "dx": 6, "dy": -16, "fontSize": 16, "fontWeight": "bold", "color": "#111111"},
   "encoding": {"x": {"field": "w", "type": "quantitative"}, "y": {"field": "t", "type": "quantitative"}, "text": {"field": "w", "type": "quantitative", "format": ".2f"}}},
  {"data": {"name": "lines"}, "transform": [{"filter": "datum.p == 'b' && datum.w == 1046.03"}],
   "mark": {"type": "text", "angle": 270, "align": "left", "baseline": "middle", "dx": 6, "dy": -19, "fontSize": 16, "fontWeight": "bold", "color": "#111111"},
   "encoding": {"x": {"field": "w", "type": "quantitative"}, "y": {"field": "t", "type": "quantitative"}, "text": {"field": "w", "type": "quantitative", "format": ".2f"}}},
  {"data": {"name": "names"}, "transform": [{"filter": "datum.p == 'b'"}],
   "mark": {"type": "text", "align": "left", "baseline": "middle", "dx": 1, "fontSize": 25, "color": "#111111"},
   "encoding": {"x": {"field": "w", "type": "quantitative"}, "y": {"field": "v", "type": "quantitative"}, "text": {"field": "s", "type": "nominal"}}},
  {"data": {"values": [{}]}, "mark": {"type": "text", "text": "b", "fontSize": 23, "fontWeight": "bold", "align": "center", "baseline": "middle", "color": "#111111"},
   "encoding": {"x": {"datum": 436, "type": "quantitative"}, "y": {"datum": 517, "type": "quantitative"}}},
  {"data": {"values": [{}]}, "mark": {"type": "text", "text": "O-H and N-H", "fontSize": 19, "align": "center", "baseline": "middle", "color": "#111111"},
   "encoding": {"x": {"datum": 3395, "type": "quantitative"}, "y": {"datum": 316, "type": "quantitative"}}},
  {"data": {"values": [{}]}, "mark": {"type": "text", "text": "//", "fontSize": 19, "align": "center", "baseline": "middle", "color": "#111111"},
   "encoding": {"x": {"datum": 2165, "type": "quantitative"}, "y": {"datum": 512, "type": "quantitative"}}},
  {"data": {"values": [{}]}, "mark": {"type": "text", "text": "//", "fontSize": 19, "align": "center", "baseline": "middle", "color": "#111111"},
   "encoding": {"x": {"datum": 2165, "type": "quantitative"}, "y": {"datum": 0, "type": "quantitative"}}}
]
}
],
"resolve": {"scale": {"x": "independent", "y": "independent"}, "axis": {"x": "independent", "y": "independent"}}
}
